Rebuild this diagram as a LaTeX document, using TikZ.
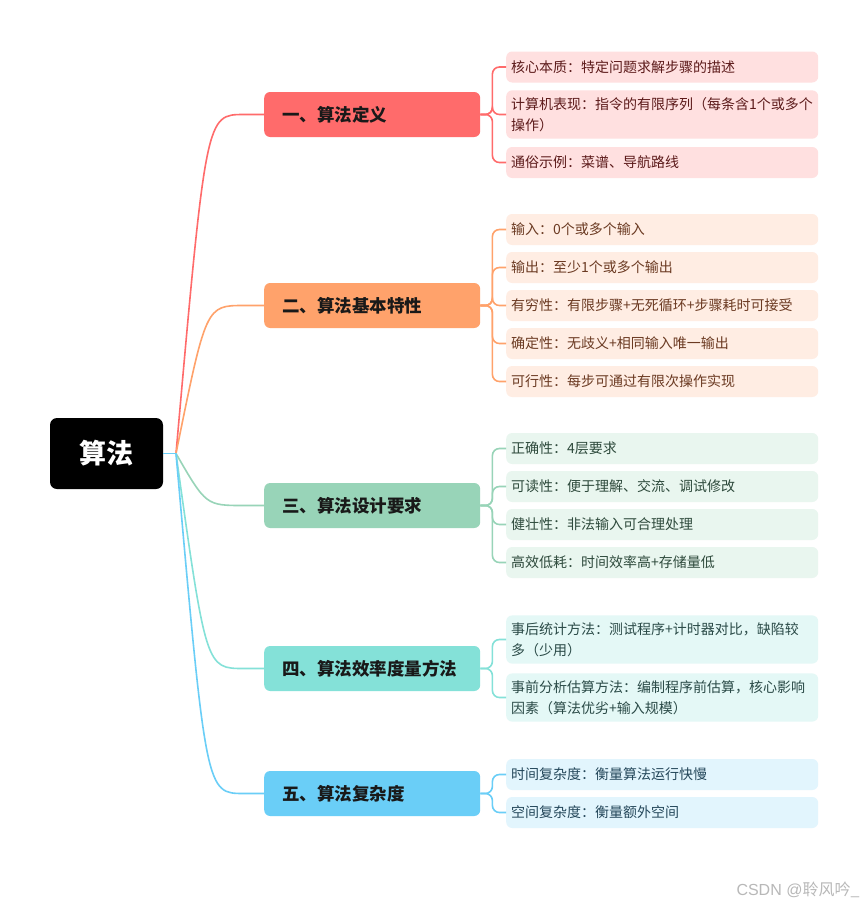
\documentclass[tikz,border=0pt]{standalone}
\usepackage{fontspec}
\setmainfont{Noto Sans CJK SC}
\newfontfamily\wmfont{Liberation Sans}
\usetikzlibrary{calc}
\definecolor{cA}{HTML}{FF6B6B}\definecolor{fA}{HTML}{FFE0E0}\definecolor{tA}{HTML}{5C1A1A}
\definecolor{cB}{HTML}{FFA26B}\definecolor{fB}{HTML}{FFEDE3}\definecolor{tB}{HTML}{6B3A22}
\definecolor{cC}{HTML}{98D4B8}\definecolor{fC}{HTML}{E9F6EF}\definecolor{tC}{HTML}{2E4A3C}
\definecolor{cD}{HTML}{84E1D8}\definecolor{fD}{HTML}{E4F8F6}\definecolor{tD}{HTML}{2A4A47}
\definecolor{cE}{HTML}{6ACEF7}\definecolor{fE}{HTML}{E2F5FD}\definecolor{tE}{HTML}{24475A}
\tikzset{
  rootbox/.style={fill=black, rounded corners=7pt, minimum width=113pt, minimum height=71pt, text=white, font=\fontsize{27}{30}\selectfont\bfseries},
  branchbox/.style={fill=#1, rounded corners=6pt, minimum width=216pt, minimum height=45pt, anchor=west, text width=180pt, inner xsep=18pt, align=left, text=black!90, font=\fontsize{17.5}{20}\selectfont\bfseries},
  leafbox/.style={rounded corners=6pt, minimum width=312pt, minimum height=31pt, anchor=west, text width=302pt, inner xsep=5pt, inner ysep=7pt, align=left, font=\fontsize{14}{21}\selectfont},
  conn/.style={draw=#1, line width=1.6pt},
  brk/.style={draw=#1, line width=1.6pt, rounded corners=7pt},
}
\begin{document}
\begin{tikzpicture}[x=1pt,y=-1pt]
\useasboundingbox (0,0) rectangle (868,906);
\fill[white] (0,0) rectangle (868,906);
\node[rootbox] (root) at (106.5,453.5) {算法};
\coordinate (hub) at (176,453.5);
% branches
\node[branchbox=cA] (b1) at (264,114.5) {一、算法定义};
\node[branchbox=cB] (b2) at (264,305.5) {二、算法基本特性};
\node[branchbox=cC] (b3) at (264,505.5) {三、算法设计要求};
\node[branchbox=cD] (b4) at (264,668.5) {四、算法效率度量方法};
\node[branchbox=cE] (b5) at (264,793.5) {五、算法复杂度};
% leaves
\node[leafbox, fill=fA, text=tA] (l11) at (506,67) {核心本质：特定问题求解步骤的描述};
\node[leafbox, fill=fA, text=tA] (l12) at (506,114.5) {计算机表现：指令的有限序列（每条含1个或多个\\操作）};
\node[leafbox, fill=fA, text=tA] (l13) at (506,162.5) {通俗示例：菜谱、导航路线};
\node[leafbox, fill=fB, text=tB] (l21) at (506,229.5) {输入：0个或多个输入};
\node[leafbox, fill=fB, text=tB] (l22) at (506,267.5) {输出：至少1个或多个输出};
\node[leafbox, fill=fB, text=tB] (l23) at (506,305.5) {有穷性：有限步骤+无死循环+步骤耗时可接受};
\node[leafbox, fill=fB, text=tB] (l24) at (506,343.5) {确定性：无歧义+相同输入唯一输出};
\node[leafbox, fill=fB, text=tB] (l25) at (506,381.5) {可行性：每步可通过有限次操作实现};
\node[leafbox, fill=fC, text=tC] (l31) at (506,448.5) {正确性：4层要求};
\node[leafbox, fill=fC, text=tC] (l32) at (506,486.5) {可读性：便于理解、交流、调试修改};
\node[leafbox, fill=fC, text=tC] (l33) at (506,524.5) {健壮性：非法输入可合理处理};
\node[leafbox, fill=fC, text=tC] (l34) at (506,562.5) {高效低耗：时间效率高+存储量低};
\node[leafbox, fill=fD, text=tD] (l41) at (506,639.5) {事后统计方法：测试程序+计时器对比，缺陷较\\多（少用）};
\node[leafbox, fill=fD, text=tD] (l42) at (506,697.5) {事前分析估算方法：编制程序前估算，核心影响\\因素（算法优劣+输入规模）};
\node[leafbox, fill=fE, text=tE] (l51) at (506,774.5) {时间复杂度：衡量算法运行快慢};
\node[leafbox, fill=fE, text=tE] (l52) at (506,812.5) {空间复杂度：衡量额外空间};
% root to branches
\foreach \b/\c in {b1/cA,b2/cB,b3/cC,b4/cD,b5/cE}{
  \draw[conn=\c] (hub) .. controls ($(hub |- \b.west)+(30,0)$) .. ($(\b.west)+(-20,0)$) -- (\b.west);
}
\draw[conn=cE] (root.east) -- (hub);
% brackets
\foreach \b/\l/\c in {b1/l11/cA,b1/l12/cA,b1/l13/cA,
  b2/l21/cB,b2/l22/cB,b2/l23/cB,b2/l24/cB,b2/l25/cB,
  b3/l31/cC,b3/l32/cC,b3/l33/cC,b3/l34/cC,
  b4/l41/cD,b4/l42/cD,
  b5/l51/cE,b5/l52/cE}{
  \draw[brk=\c] (\b.east) -- ++(12,0) |- (\l.west);
}
\node[anchor=east, text=black!28, font=\fontsize{16}{18}\selectfont] (wm) at (863,890) {{\wmfont CSDN @}聆风吟\_};
\end{tikzpicture}
\end{document}
